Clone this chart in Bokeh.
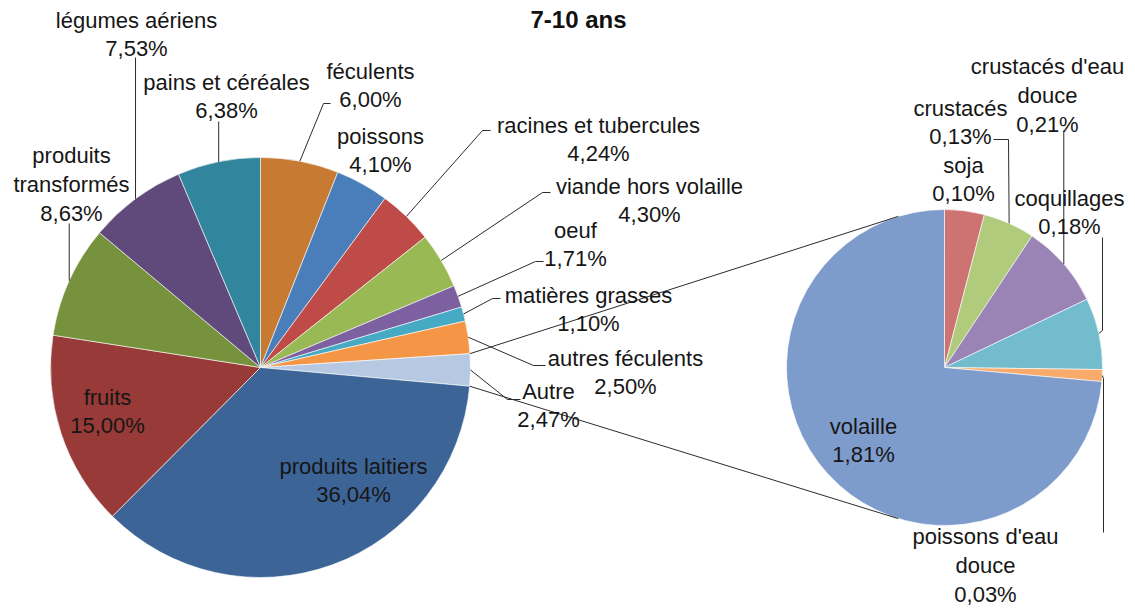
import numpy as np
from bokeh.plotting import figure
from bokeh.models import Range1d, ColumnDataSource
from bokeh.embed import file_html
from bokeh.resources import INLINE
from bokeh.core.properties import value

# ---------------- data ----------------
title_text = "7-10 ans"

main_names = ["féculents", "poissons", "racines et tubercules", "viande hors volaille",
              "oeuf", "matières grasses", "autres féculents", "Autre",
              "produits laitiers", "fruits", "produits transformés",
              "légumes aériens", "pains et céréales"]
main_values = [6.00, 4.10, 4.24, 4.30, 1.71, 1.10, 2.50, 2.47, 36.04, 15.00, 8.63, 7.53, 6.38]

sub_names = ["soja", "crustacés", "crustacés d'eau douce", "coquillages",
             "poissons d'eau douce", "volaille"]
sub_values = [0.10, 0.13, 0.21, 0.18, 0.03, 1.81]

# ---------------- styles / layout ----------------
main_colors = ["#C77A31", "#4A7EBB", "#BE4B48", "#98B954", "#7D60A0", "#46AAC5",
               "#F59647", "#B7C9E2", "#3C6497", "#983A37", "#76923C", "#604A7B", "#31859C"]
sub_colors = ["#CD7371", "#B0CB7C", "#9A84B6", "#72BCCE", "#F9AB6B", "#7E9CCB"]

W, H = 1133, 607


def Y(y):
    return H - y


MAIN_C, MAIN_R = (260, 367), 210
SUB_C, SUB_R = (944, 367), 158

FONT = "Liberation Sans"
FSIZE = "22px"

# label centre (page px) and wrap mode
main_label_layout = {
    "féculents": (370, 85, None),
    "poissons": (380, 150, None),
    "racines et tubercules": (598, 139, None),
    "viande hors volaille": (649, 200, None),
    "oeuf": (575, 244, None),
    "matières grasses": (588, 309, None),
    "autres féculents": (625, 372, None),
    "Autre": (548, 405, None),
    "produits laitiers": (353, 480, None),
    "fruits": (107, 411, None),
    "produits transformés": (71, 184, "first"),
    "légumes aériens": (136, 34, None),
    "pains et céréales": (226, 96, None),
}
sub_label_layout = {
    "soja": (963, 179, None),
    "crustacés": (960, 122, None),
    "crustacés d'eau douce": (1047, 95, "last"),
    "coquillages": (1069, 212, None),
    "poissons d'eau douce": (985, 565, "last"),
    "volaille": (863, 440, None),
}
# leader path points after the slice edge point (page px)
main_leaders = {
    "légumes aériens": "vertical:57",
    "produits transformés": "vertical:223",
    "pains et céréales": "vertical:121",
    "féculents": [(323, 103), (330, 103)],
    "racines et tubercules": [(482, 130), (490, 130)],
    "viande hors volaille": [(542, 192), (550, 192)],
    "oeuf": [(535, 261), (543, 261)],
    "matières grasses": [(492, 298), (500, 298)],
    "autres féculents": [(533, 365), (545, 365)],
    "Autre": [(507, 399), (520, 399)],
}
sub_leaders = {
    "crustacés": [(1008, 139), (993, 139)],
    "crustacés d'eau douce": "vertical:130",
    "coquillages": [(1102, 330), (1102, 237)],
    "poissons d'eau douce": [(1103, 378), (1103, 532)],
}
CONNECT_SUB_ANGLES = (np.deg2rad(343.0), np.deg2rad(197.0))


def wrap(name, mode):
    if mode == "first":
        a, b = name.split(" ", 1)
        return a + "\n" + b
    if mode == "last":
        a, b = name.rsplit(" ", 1)
        return a + "\n" + b
    return name


def fmt(v):
    return f"{v:.2f}".replace(".", ",") + "%"


def angles(vals):
    vals = np.asarray(vals, dtype=float)
    c = np.concatenate([[0.0], np.cumsum(vals)]) / vals.sum() * 2 * np.pi
    return c[:-1], c[1:]


def edge(center, r, th):
    return (center[0] + r * np.sin(th), center[1] - r * np.cos(th))


p = figure(width=W, height=H, output_backend="svg", toolbar_location=None,
           x_range=Range1d(0, W), y_range=Range1d(0, H),
           min_border=0, background_fill_color="white", border_fill_color="white")
p.axis.visible = False
p.grid.visible = False
p.outline_line_color = None

label_x, label_y, label_t = [], [], []
lead_xs, lead_ys = [], []


def draw_pie(names, vals, colors, center, r, layout, leaders):
    t1, t2 = angles(vals)
    src = ColumnDataSource(dict(
        x=[center[0]] * len(vals), y=[Y(center[1])] * len(vals),
        start=list(np.pi / 2 - t2), end=list(np.pi / 2 - t1), color=colors))
    p.wedge(x="x", y="y", radius=r, start_angle="start", end_angle="end",
            direction="anticlock", fill_color="color", line_color="white",
            line_width=0.6, source=src)
    for n, v, a1, a2 in zip(names, vals, t1, t2):
        lx, ly, mode = layout[n]
        label_x.append(lx)
        label_y.append(Y(ly))
        label_t.append(wrap(n, mode) + "\n" + fmt(v))
        if n in leaders:
            e = edge(center, r, (a1 + a2) / 2)
            spec = leaders[n]
            if isinstance(spec, str):
                pts = [e, (e[0], float(spec.split(":")[1]))]
            else:
                pts = [e] + list(spec)
            lead_xs.append([q[0] for q in pts])
            lead_ys.append([Y(q[1]) for q in pts])
    return t1, t2


mt1, mt2 = draw_pie(main_names, main_values, main_colors, MAIN_C, MAIN_R,
                    main_label_layout, main_leaders)
draw_pie(sub_names, sub_values, sub_colors, SUB_C, SUB_R, sub_label_layout, sub_leaders)

# connector lines from the "Autre" slice to the secondary pie
ia = main_names.index("Autre")
for th_main, th_sub in zip((mt1[ia], mt2[ia]), CONNECT_SUB_ANGLES):
    a = edge(MAIN_C, MAIN_R, th_main)
    b = edge(SUB_C, SUB_R, th_sub)
    lead_xs.append([a[0], b[0]])
    lead_ys.append([Y(a[1]), Y(b[1])])

p.multi_line(xs=lead_xs, ys=lead_ys, line_color="#2b2b2b", line_width=1.0)

p.text(x=label_x, y=label_y, text=label_t, text_font=value(FONT),
       text_font_size=FSIZE, text_align="center", text_baseline="middle",
       text_line_height=1.15, text_color="#161616")

p.text(x=[578], y=[Y(19)], text=[title_text], text_font=value(FONT),
       text_font_size="24px", text_font_style="bold", text_align="center",
       text_baseline="alphabetic", text_color="#111111")

open("out.html", "w").write(file_html(p, INLINE))
